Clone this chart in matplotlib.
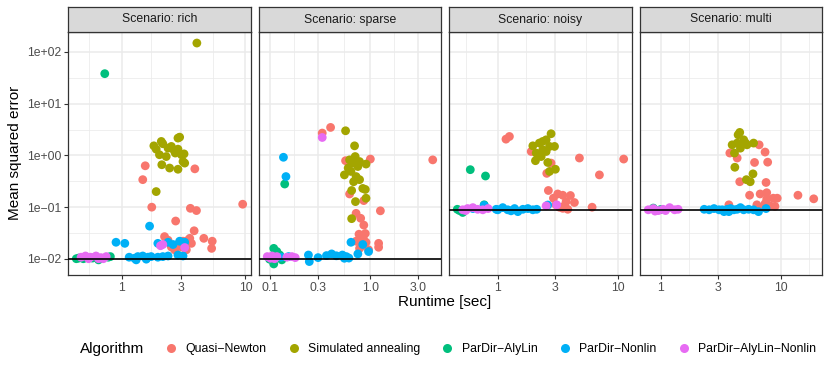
import numpy as np
import matplotlib
matplotlib.use("Agg")
import matplotlib.pyplot as plt
from matplotlib.lines import Line2D

plt.rcParams['font.family'] = ['Liberation Sans', 'DejaVu Sans']

# --- Data ---
scenarios = ["rich", "sparse", "noisy", "multi"]
algorithms = ["Quasi\u2212Newton", "Simulated annealing", "ParDir\u2212AlyLin",
              "ParDir\u2212Nonlin", "ParDir\u2212AlyLin\u2212Nonlin"]
colors = ["#F8766D", "#A3A500", "#00BF7D", "#00B0F6", "#E76BF3"]
reference_mse = [0.0101, 0.0101, 0.089, 0.089]

# rich
rich_qn_rt = [1.55, 1.48, 3.90, 1.75, 3.59, 4.02, 9.5, 2.73, 3.85, 4.61, 5.39, 5.33, 2.22, 2.37,
              2.85, 3.13, 3.44, 3.66, 3.33, 2.68, 2.52, 3.04, 3.55]
rich_qn_mse = [0.63, 0.34, 0.55, 0.10, 0.095, 0.086, 0.114, 0.054, 0.035, 0.025, 0.022, 0.016, 0.027,
               0.023, 0.019, 0.022, 0.023, 0.020, 0.015, 0.015, 0.017, 0.017, 0.025]
rich_sa_rt = [1.82, 1.90, 2.09, 2.15, 2.02, 2.29, 2.37, 2.52, 2.65, 2.71, 2.85, 2.94, 2.85, 3.04,
              3.19, 3.13, 3.23, 2.44, 2.85, 2.11, 1.90, 4.05]
rich_sa_mse = [1.53, 1.32, 1.86, 1.68, 1.03, 0.95, 1.38, 1.49, 1.25, 1.11, 1.32, 2.25, 2.16, 1.03,
               1.07, 0.76, 0.71, 0.57, 0.54, 0.66, 0.20, 148]
rich_al_rt = [0.43, 0.45, 0.49, 0.65, 0.78, 0.81, 0.58, 0.73]
rich_al_mse = [0.0101, 0.0104, 0.0101, 0.0096, 0.0108, 0.0111, 0.0104, 37.9]
rich_nl_rt = [1.68, 0.90, 1.06, 1.96, 2.37, 2.60, 2.94, 3.23, 1.15, 1.27, 1.35, 1.48, 1.63, 1.73,
              1.96, 2.15, 2.37, 2.85, 3.13, 1.31, 1.58]
rich_nl_mse = [0.043, 0.021, 0.020, 0.020, 0.021, 0.019, 0.022, 0.021, 0.0108, 0.0103, 0.0111, 0.0114,
               0.0108, 0.0111, 0.0108, 0.0111, 0.0114, 0.0119, 0.0114, 0.0096, 0.0099]
rich_aln_rt = [0.47, 0.51, 0.56, 0.62, 0.68, 0.75, 0.54, 0.65, 0.71, 2.06, 2.15, 3.23]
rich_aln_mse = [0.0108, 0.0114, 0.0108, 0.0114, 0.0106, 0.0111, 0.0101, 0.0101, 0.0101, 0.018, 0.019, 0.0166]

# sparse
sparse_qn_rt = [0.33, 0.40, 0.565, 1.0, 4.21, 0.62, 0.86, 1.26, 0.72, 0.80, 0.86, 0.77, 0.89, 0.85,
                0.72, 0.905, 0.78, 0.96, 1.21, 1.21, 0.84]
sparse_qn_mse = [2.70, 3.47, 0.79, 0.85, 0.82, 0.18, 0.134, 0.085, 0.076, 0.061, 0.045, 0.030, 0.031,
                 0.025, 0.022, 0.021, 0.016, 0.015, 0.020, 0.0168, 0.018]
sparse_sa_rt = [0.565, 0.695, 0.62, 0.705, 0.78, 0.905, 0.60, 0.64, 0.55, 0.72, 0.68, 0.78, 0.84,
                0.89, 0.65, 0.905, 0.71, 0.65, 0.67, 0.75]
sparse_sa_mse = [2.99, 1.53, 0.82, 0.95, 0.76, 0.68, 0.57, 0.49, 0.42, 0.39, 0.31, 0.34, 0.23, 0.22,
                 0.21, 0.149, 0.128, 0.060, 0.71, 0.61]
sparse_al_rt = [0.139, 0.108, 0.116, 0.124, 0.108, 0.098, 0.13]
sparse_al_mse = [0.28, 0.016, 0.0139, 0.0119, 0.0080, 0.0099, 0.0096]
sparse_nl_rt = [0.135, 0.143, 0.64, 0.84, 0.96, 0.75, 0.24, 0.245, 0.30, 0.364, 0.41, 0.457, 0.525,
                0.574, 0.61, 0.152, 0.128, 0.55]
sparse_nl_mse = [0.92, 0.39, 0.021, 0.019, 0.0139, 0.0125, 0.0119, 0.0089, 0.0106, 0.0116, 0.0125,
                 0.0115, 0.0119, 0.0111, 0.0104, 0.0111, 0.0108, 0.0103]
sparse_aln_rt = [0.33, 0.093, 0.104, 0.116, 0.146, 0.164, 0.177, 0.10, 0.11]
sparse_aln_mse = [2.22, 0.0111, 0.0114, 0.0111, 0.0108, 0.0111, 0.0106, 0.0103, 0.0101]

# noisy
noisy_qn_rt = [1.17, 1.25, 1.90, 4.79, 11.2, 7.03, 2.56, 2.78, 2.64, 3.16, 3.48, 2.91, 4.03, 3.71,
               4.35, 6.11, 3.26, 3.48, 3.83, 3.06, 3.59]
noisy_qn_mse = [2.06, 2.32, 1.19, 0.89, 0.85, 0.42, 0.45, 0.71, 0.21, 0.18, 0.17, 0.149, 0.168, 0.128,
                0.123, 0.0998, 0.0998, 0.095, 0.091, 0.111, 0.106]
noisy_sa_rt = [1.96, 2.09, 2.06, 2.22, 2.37, 2.53, 2.78, 2.70, 2.97, 2.53, 2.61, 2.70, 3.02, 2.30, 2.37]
noisy_sa_mse = [1.53, 1.11, 0.79, 1.73, 1.86, 2.00, 2.62, 1.49, 1.49, 1.19, 0.73, 0.49, 0.54, 0.95, 1.28]
noisy_al_rt = [0.59, 0.79, 0.48, 0.51, 0.46, 0.77]
noisy_al_mse = [0.53, 0.40, 0.086, 0.079, 0.091, 0.111]
noisy_nl_rt = [0.77, 0.97, 1.10, 1.21, 1.38, 1.47, 1.62, 1.78, 1.96, 2.11, 1.0, 2.61, 1.29, 0.62]
noisy_nl_mse = [0.108, 0.091, 0.098, 0.089, 0.094, 0.082, 0.091, 0.094, 0.089, 0.091, 0.089, 0.11,
                0.085, 0.094]
noisy_aln_rt = [0.51, 0.56, 0.62, 0.68, 0.75, 0.83, 2.53, 3.10, 0.54]
noisy_aln_mse = [0.089, 0.094, 0.098, 0.091, 0.089, 0.094, 0.106, 0.111, 0.086]

# multi
multi_qn_rt = [3.78, 4.35, 6.63, 7.43, 6.07, 7.81, 4.57, 7.57, 5.52, 6.76, 7.67, 7.67, 8.69, 9.38,
               13.96, 18.9, 6.35, 7.43, 8.17, 8.98, 3.71, 6.76]
multi_qn_mse = [1.11, 0.89, 1.60, 1.16, 0.73, 0.74, 0.31, 0.30, 0.17, 0.18, 0.19, 0.143, 0.149, 0.149,
                0.17, 0.145, 0.111, 0.117, 0.106, 0.104, 0.111, 0.096]
multi_sa_rt = [4.57, 4.43, 3.95, 4.35, 4.93, 5.25, 5.96, 4.13, 4.63, 4.16, 5.89, 5.19, 5.59, 5.09]
multi_sa_mse = [2.78, 2.50, 1.60, 1.73, 2.00, 1.60, 1.73, 1.11, 1.38, 0.59, 0.44, 0.34, 0.31, 1.75]
multi_al_rt = [0.87, 1.0]
multi_al_mse = [0.096, 0.09]
multi_nl_rt = [2.31, 2.54, 2.79, 3.07, 3.38, 3.60, 3.83, 4.08, 4.35, 4.63, 4.93, 5.42, 5.96, 6.55,
               7.57, 3.27, 3.71]
multi_nl_mse = [0.091, 0.089, 0.094, 0.089, 0.082, 0.091, 0.094, 0.089, 0.091, 0.098, 0.089, 0.091,
                0.089, 0.082, 0.094, 0.089, 0.082]
multi_aln_rt = [0.79, 0.87, 0.96, 1.05, 1.19, 1.31, 1.40, 0.90, 1.1]
multi_aln_mse = [0.089, 0.094, 0.086, 0.091, 0.098, 0.089, 0.091, 0.084, 0.086]

panel_data = {
    "rich": [(rich_qn_rt, rich_qn_mse), (rich_sa_rt, rich_sa_mse), (rich_al_rt, rich_al_mse),
             (rich_nl_rt, rich_nl_mse), (rich_aln_rt, rich_aln_mse)],
    "sparse": [(sparse_qn_rt, sparse_qn_mse), (sparse_sa_rt, sparse_sa_mse), (sparse_al_rt, sparse_al_mse),
               (sparse_nl_rt, sparse_nl_mse), (sparse_aln_rt, sparse_aln_mse)],
    "noisy": [(noisy_qn_rt, noisy_qn_mse), (noisy_sa_rt, noisy_sa_mse), (noisy_al_rt, noisy_al_mse),
              (noisy_nl_rt, noisy_nl_mse), (noisy_aln_rt, noisy_aln_mse)],
    "multi": [(multi_qn_rt, multi_qn_mse), (multi_sa_rt, multi_sa_mse), (multi_al_rt, multi_al_mse),
              (multi_nl_rt, multi_nl_mse), (multi_aln_rt, multi_aln_mse)],
}

x_breaks = {"rich": [1, 3, 10], "sparse": [0.1, 0.3, 1.0, 3.0], "noisy": [1, 3, 10], "multi": [1, 3, 10]}
x_break_labels = {"rich": ["1", "3", "10"], "sparse": ["0.1", "0.3", "1.0", "3.0"],
                  "noisy": ["1", "3", "10"], "multi": ["1", "3", "10"]}
y_breaks = [1e-2, 1e-1, 1e0, 1e1, 1e2]
y_break_labels = ["1e\u221202", "1e\u221201", "1e+00", "1e+01", "1e+02"]


def log_limits(values):
    lo, hi = np.log10(min(values)), np.log10(max(values))
    pad = (hi - lo) * 0.05
    return 10 ** (lo - pad), 10 ** (hi + pad)


def minor_breaks(majors):
    # ggplot style: midpoints (in log space) between majors, extended one step each side
    lg = np.log10(majors)
    step_lo = lg[1] - lg[0]
    step_hi = lg[-1] - lg[-2]
    ext = np.concatenate([[lg[0] - step_hi if len(lg) > 3 else lg[0] - (1 - step_lo)], lg,
                          [lg[-1] + (1 - step_hi) if len(lg) <= 3 else lg[-1] + step_lo]])
    return 10 ** ((ext[:-1] + ext[1:]) / 2)


all_mse = [v for s in scenarios for _, m in panel_data[s] for v in m]
ylims = log_limits(all_mse)

fig = plt.figure(figsize=(8.3, 3.76), dpi=100)
W, H = 830, 376
panel_px = [(68, 251), (259, 441), (449, 632), (640, 822)]
top_px, bottom_px, strip_px = 32, 275, 7

grid_col = "#EBEBEB"
frame_col = "#333333"
tick_col = "#4D4D4D"

for i, scen in enumerate(scenarios):
    x0, x1 = panel_px[i]
    ax = fig.add_axes([x0 / W, 1 - bottom_px / H, (x1 - x0) / W, (bottom_px - top_px) / H])
    ax.set_xscale("log")
    ax.set_yscale("log")

    all_rt = [v for r, _ in panel_data[scen] for v in r]
    xlims = log_limits(all_rt)
    ax.set_xlim(*xlims)
    ax.set_ylim(*ylims)

    # grid lines
    for xv in minor_breaks(x_breaks[scen]):
        ax.axvline(xv, color=grid_col, lw=0.55, zorder=0)
    for xv in x_breaks[scen]:
        ax.axvline(xv, color=grid_col, lw=1.1, zorder=0)
    for yv in y_breaks:
        ax.axhline(yv, color=grid_col, lw=1.1, zorder=0)
        ax.axhline(yv * np.sqrt(10), color=grid_col, lw=0.55, zorder=0)

    for (rt, mse), col in zip(panel_data[scen], colors):
        ax.scatter(rt, mse, s=40, color=col, edgecolors="none", zorder=2)

    ax.axhline(reference_mse[i], color="black", lw=1.2, zorder=3)

    ax.xaxis.set_major_locator(matplotlib.ticker.FixedLocator(x_breaks[scen]))
    ax.xaxis.set_minor_locator(matplotlib.ticker.NullLocator())
    ax.set_xticklabels(x_break_labels[scen])
    ax.yaxis.set_major_locator(matplotlib.ticker.FixedLocator(y_breaks))
    ax.yaxis.set_minor_locator(matplotlib.ticker.NullLocator())
    if i == 0:
        ax.set_yticklabels(y_break_labels)
    else:
        ax.tick_params(axis="y", left=False, labelleft=False)
    ax.tick_params(axis="both", length=3, width=0.8, color=frame_col, labelsize=8.8,
                   labelcolor=tick_col, pad=2)
    for sp in ax.spines.values():
        sp.set_color(frame_col)
        sp.set_linewidth(0.9)

    # facet strip
    sax = fig.add_axes([x0 / W, 1 - top_px / H, (x1 - x0) / W, (top_px - strip_px) / H])
    sax.set_facecolor("#D9D9D9")
    sax.set_xticks([])
    sax.set_yticks([])
    for sp in sax.spines.values():
        sp.set_color(frame_col)
        sp.set_linewidth(0.9)
    sax.text(0.5, 0.5, "Scenario: " + scen, ha="center", va="center", fontsize=8.8,
             color="#1A1A1A", transform=sax.transAxes)

fig.text(15 / W, 1 - 153 / H, "Mean squared error", rotation=90, ha="center", va="center", fontsize=11)
fig.text(445 / W, 1 - 302 / H, "Runtime [sec]", ha="center", va="center", fontsize=11)

# legend
fig.text(80 / W, 1 - 349 / H, "Algorithm", ha="left", va="center", fontsize=11)
handles = [Line2D([], [], ls="none", marker="o", markersize=6.5, color=c, markeredgewidth=0) for c in colors]
fig.legend(handles, algorithms, loc="center", bbox_to_anchor=(490 / W, 1 - 349 / H), ncol=5,
           frameon=False, fontsize=8.8, handletextpad=0.6, columnspacing=1.6, handlelength=1.2)

fig.savefig("out.png", dpi=100)
